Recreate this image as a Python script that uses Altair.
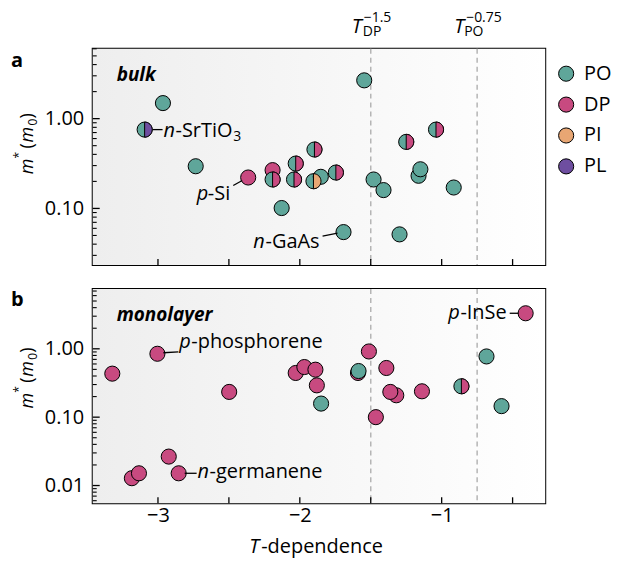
import altair as alt
import pandas as pd

FONT = "Open Sans"

# ---------------- data ----------------
mechs = ["PO", "DP", "PI", "PL"]
mech_colors = ["#5fa69a", "#c84a80", "#e8a673", "#6e4ea0"]

# panel a: bulk
bulk_T = [-2.965, -3.094, -2.734, -2.364, -2.192, -2.192, -2.128, -2.029, -2.041, -1.897,
          -1.904, -1.852, -1.746, -1.692, -1.546, -1.480, -1.410, -1.297, -1.250, -1.163,
          -1.150, -1.040, -0.915]
bulk_m = [1.49, 0.755, 0.295, 0.221, 0.267, 0.210, 0.101, 0.316, 0.210, 0.453,
          0.201, 0.225, 0.251, 0.0545, 2.67, 0.210, 0.160, 0.0514, 0.551, 0.231,
          0.273, 0.755, 0.171]
bulk_mech1 = ["PO", "PO", "PO", "DP", "DP", "PO", "PO", "PO", "PO", "PO",
              "PO", "PO", "PO", "PO", "PO", "PO", "PO", "PO", "PO", "PO",
              "PO", "PO", "PO"]
bulk_mech2 = ["", "PL", "", "", "", "DP", "", "DP", "DP", "DP",
              "PI", "", "DP", "", "", "", "", "", "DP", "",
              "", "DP", ""]

# panel b: monolayer
mono_T = [-3.322, -3.004, -3.184, -3.134, -2.924, -2.854, -2.498, -2.029, -1.968, -1.890,
          -1.880, -1.850, -1.590, -1.586, -1.513, -1.464, -1.390, -1.320, -1.362, -1.139,
          -0.861, -0.684, -0.578, -0.408]
mono_m = [0.433, 0.846, 0.0128, 0.0151, 0.0265, 0.0151, 0.234, 0.443, 0.541, 0.495,
          0.292, 0.158, 0.443, 0.473, 0.914, 0.100, 0.524, 0.209, 0.234, 0.239,
          0.283, 0.773, 0.145, 3.31]
mono_mech1 = ["DP", "DP", "DP", "DP", "DP", "DP", "DP", "DP", "DP", "DP",
              "DP", "PO", "DP", "PO", "DP", "DP", "DP", "DP", "DP", "DP",
              "PO", "PO", "PO", "DP"]
mono_mech2 = ["", "", "", "", "", "", "", "", "", "",
              "", "", "", "", "", "", "", "", "", "",
              "DP", "", "", ""]

# reference power laws (dashed lines)
ref_T = [-1.5, -0.75]

# axis ticks
x_ticks = [-3.0, -2.5, -2.0, -1.5, -1.0, -0.5]
x_labels = [-3, -2, -1]
top_major = [0.1, 1.0]
top_minor = [0.03, 0.04, 0.05, 0.06, 0.07, 0.08, 0.09,
             0.2, 0.3, 0.4, 0.5, 0.6, 0.7, 0.8, 0.9, 2, 3, 4, 5, 6]
bot_major = [0.01, 0.1, 1.0]
bot_minor = [0.006, 0.007, 0.008, 0.009,
             0.02, 0.03, 0.04, 0.05, 0.06, 0.07, 0.08, 0.09,
             0.2, 0.3, 0.4, 0.5, 0.6, 0.7, 0.8, 0.9, 2, 3, 4, 5, 6, 7]

X_DOMAIN = [-3.46, -0.27]
TOP_DOMAIN = [0.0234, 6.0]
BOT_DOMAIN = [0.0055, 7.5]

W = 454
H_TOP = 217
H_BOT = 215

SYM = 230
HALF = "M0,-1 A1,1 0 0,1 0,1 Z"


class Panel:
    def __init__(self, ydom, major, bottom_axis):
        if bottom_axis:
            xax = alt.Axis(values=x_labels, format="d", title=None, labelPadding=2)
        else:
            xax = None
        self.X = alt.X("T:Q", scale=alt.Scale(domain=X_DOMAIN, nice=False, zero=False),
                       axis=xax, title=None)
        self.Y = alt.Y("m:Q", scale=alt.Scale(type="log", domain=ydom, nice=False),
                       axis=alt.Axis(values=major, format=".2f", title=None), title=None)

    def text_piece(self, T, m, txt, dx, dy, italic=False, size=20, align="left", weight="normal", ypx=None):
        d = pd.DataFrame({"T": [T], "m": [m], "t": [txt]})
        y = self.Y if ypx is None else alt.value(ypx)
        return alt.Chart(d).mark_text(
            dx=dx, dy=dy, align=align, baseline="alphabetic", font=FONT, fontSize=size,
            fontStyle="italic" if italic else "normal", fontWeight=weight, color="black"
        ).encode(x=self.X, y=y, text="t:N")

    def leader(self, T, m, ox1, oy1, ox2, oy2):
        d = pd.DataFrame({"T": [T], "m": [m], "T2": [T], "m2": [m]})
        return alt.Chart(d).mark_rule(
            color="black", strokeWidth=1.3, xOffset=ox1, yOffset=oy1, x2Offset=ox2, y2Offset=oy2
        ).encode(x=self.X, y=self.Y, x2="T2:Q", y2="m2:Q")


def static_text(txt, x, y, size=20, italic=False, weight="normal", angle=0, align="left"):
    d = pd.DataFrame({"t": [txt]})
    return alt.Chart(d).mark_text(
        align=align, baseline="alphabetic", font=FONT, fontSize=size, angle=angle,
        fontStyle="italic" if italic else "normal", fontWeight=weight, color="black"
    ).encode(x=alt.value(x), y=alt.value(y), text="t:N")


def ytitle(y0):
    return [
        static_text("m", -60, y0, size=18, italic=True, angle=270),
        static_text("*", -70, y0 - 16, size=12, angle=270),
        static_text("(", -60, y0 - 26, size=18, angle=270),
        static_text("m", -60, y0 - 32, size=18, italic=True, angle=270),
        static_text("0", -56, y0 - 49, size=12, angle=270),
        static_text(")", -60, y0 - 56, size=18, angle=270),
    ]


def panel_layers(P, T, m, mech1, mech2, H, major, minor, legend):
    df = pd.DataFrame({"T": T, "m": m, "mech1": mech1, "mech2": mech2})
    half_df = df[df["mech2"] != ""]

    bg = alt.Chart(pd.DataFrame({"a": [0]})).mark_rect(
        color=alt.LinearGradient(
            gradient="linear",
            stops=[alt.GradientStop(color="#eeeeee", offset=0), alt.GradientStop(color="#ffffff", offset=1)],
            x1=0, x2=1, y1=0, y2=0)
    ).encode(x=alt.value(0), x2=alt.value(W), y=alt.value(0), y2=alt.value(H))

    dashed = alt.Chart(pd.DataFrame({"T": ref_T})).mark_rule(
        color="#b5b5b5", strokeWidth=1.5, strokeDash=[5, 4]
    ).encode(x=P.X, y=alt.value(0), y2=alt.value(H))

    xt = alt.Chart(pd.DataFrame({"T": x_ticks})).mark_rule(color="black", strokeWidth=1.3).encode(
        x=P.X, y=alt.value(H - 6), y2=alt.value(H))
    ymaj = alt.Chart(pd.DataFrame({"m": major})).mark_rule(color="black", strokeWidth=1.3).encode(
        y=P.Y, x=alt.value(0), x2=alt.value(7))
    ymin = alt.Chart(pd.DataFrame({"m": minor})).mark_rule(color="black", strokeWidth=1.1).encode(
        y=P.Y, x=alt.value(0), x2=alt.value(4))

    leg = alt.Legend(title=None, orient="none", legendX=465, legendY=15, symbolType="circle",
                     symbolSize=SYM, symbolStrokeColor="black", symbolStrokeWidth=1,
                     labelFont=FONT, labelFontSize=20, labelOffset=8, rowPadding=11,
                     padding=0) if legend else None

    full = alt.Chart(df).mark_point(filled=True, size=SYM, shape="circle", stroke="black",
                                    strokeWidth=1, opacity=1).encode(
        x=P.X, y=P.Y,
        color=alt.Color("mech1:N", scale=alt.Scale(domain=mechs, range=mech_colors), legend=leg))
    half = alt.Chart(half_df).mark_point(filled=True, size=SYM, shape=HALF, stroke="black",
                                         strokeWidth=1, opacity=1).encode(
        x=P.X, y=P.Y,
        color=alt.Color("mech2:N", scale=alt.Scale(domain=mechs, range=mech_colors), legend=None))
    return [bg, dashed, xt, ymaj, ymin, full, half]


# ---------------- panel a ----------------
PA = Panel(TOP_DOMAIN, top_major, False)
top_layers = panel_layers(PA, bulk_T, bulk_m, bulk_mech1, bulk_mech2, H_TOP,
                          top_major, top_minor, True)
top_layers += [
    # n-SrTiO3
    PA.leader(bulk_T[1], bulk_m[1], 8, 0, 18, 0),
    PA.text_piece(bulk_T[1], bulk_m[1], "n", 19, 7, italic=True),
    PA.text_piece(bulk_T[1], bulk_m[1], "-SrTiO", 31, 7),
    PA.text_piece(bulk_T[1], bulk_m[1], "3", 89, 11, size=14),
    # p-Si
    PA.leader(bulk_T[3], bulk_m[3], -15, 8, -6, 3),
    PA.text_piece(bulk_T[3], bulk_m[3], "-Si", -18, 23, align="right"),
    PA.text_piece(bulk_T[3], bulk_m[3], "p", -40, 23, italic=True, align="right"),
    # n-GaAs
    PA.leader(bulk_T[13], bulk_m[13], -21, 4, -6, 1),
    PA.text_piece(bulk_T[13], bulk_m[13], "-GaAs", -24, 16, align="right"),
    PA.text_piece(bulk_T[13], bulk_m[13], "n", -79, 16, italic=True, align="right"),
    # reference power-law labels
    PA.text_piece(ref_T[0], 1, "T", -9, 0, italic=True, align="right", ypx=-16),
    PA.text_piece(ref_T[0], 1, "DP", -8, 0, size=14, ypx=-13),
    PA.text_piece(ref_T[0], 1, "\u22121.5", -7, 0, size=14, ypx=-27),
    PA.text_piece(ref_T[1], 1, "T", -13, 0, italic=True, align="right", ypx=-16),
    PA.text_piece(ref_T[1], 1, "PO", -13, 0, size=14, ypx=-13),
    PA.text_piece(ref_T[1], 1, "\u22120.75", -11, 0, size=14, ypx=-27),
    static_text("bulk", 24, 32, size=19, italic=True, weight="bold"),
    static_text("a", -82, 18, size=20, weight="bold"),
] + ytitle(126)

top = alt.layer(*top_layers).properties(width=W, height=H_TOP)

# ---------------- panel b ----------------
PB = Panel(BOT_DOMAIN, bot_major, True)
bot_layers = panel_layers(PB, mono_T, mono_m, mono_mech1, mono_mech2, H_BOT,
                          bot_major, bot_minor, False)
bot_layers += [
    # p-phosphorene
    PB.leader(mono_T[1], mono_m[1], 6, -1, 21, -2),
    PB.text_piece(mono_T[1], mono_m[1], "p", 22, -6, italic=True),
    PB.text_piece(mono_T[1], mono_m[1], "-phosphorene", 34, -6),
    # n-germanene
    PB.leader(mono_T[5], mono_m[5], 6, 0, 18, 0),
    PB.text_piece(mono_T[5], mono_m[5], "n", 19, 5, italic=True),
    PB.text_piece(mono_T[5], mono_m[5], "-germanene", 31, 5),
    # p-InSe
    PB.leader(mono_T[23], mono_m[23], -16, 0, -7, 0),
    PB.text_piece(mono_T[23], mono_m[23], "-InSe", -19, 6, align="right"),
    PB.text_piece(mono_T[23], mono_m[23], "p", -66, 6, italic=True, align="right"),
    static_text("monolayer", 24, 32, size=19, italic=True, weight="bold"),
    static_text("b", -82, 17, size=20, weight="bold"),
    static_text("T", 157, 265, size=20, italic=True),
    static_text("-dependence", 169, 265, size=20),
] + ytitle(120)

bot = alt.layer(*bot_layers).properties(width=W, height=H_BOT)

chart = alt.vconcat(top, bot, spacing=20).properties(
    padding={"left": 2, "top": 1, "right": 0, "bottom": 0}
).configure_view(
    stroke="black", strokeWidth=2
).configure_axis(
    domain=False, ticks=False, grid=False, labelFont=FONT, labelFontSize=20,
    labelColor="black", labelPadding=9
).configure_text(font=FONT)

chart.save("out.html", embed_options={"renderer": "svg", "actions": False})
